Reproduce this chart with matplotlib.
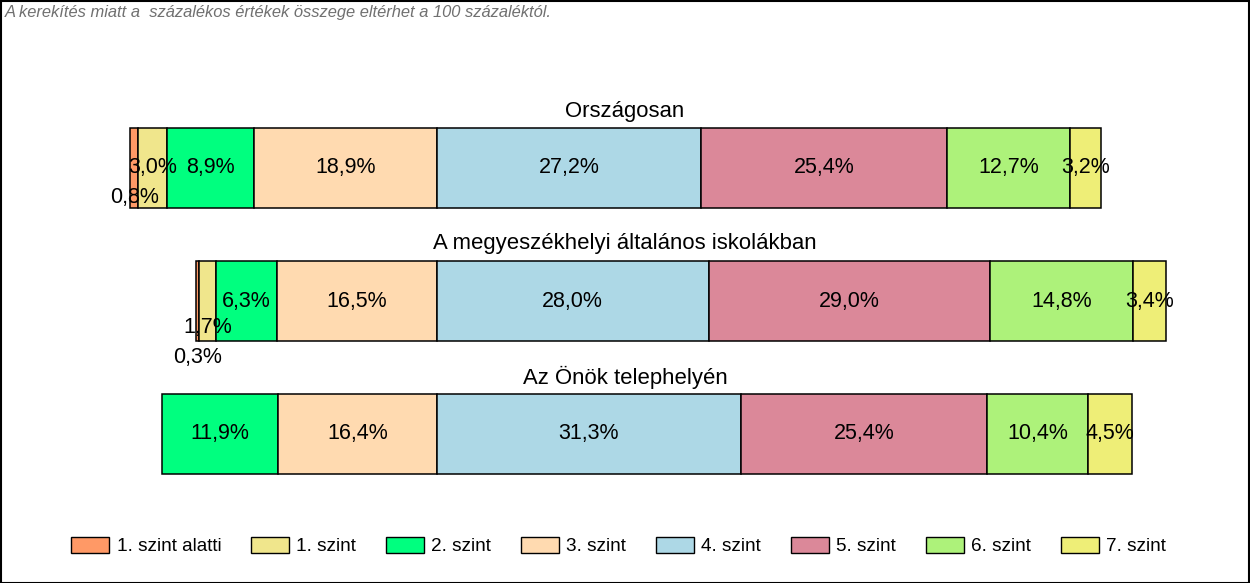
import matplotlib.pyplot as plt
from matplotlib.patches import Patch, Rectangle

# data
levels = ["1. szint alatti", "1. szint", "2. szint", "3. szint",
          "4. szint", "5. szint", "6. szint", "7. szint"]
colors = ["#FF9966", "#F0E68C", "#00FF7F", "#FFDAB0",
          "#ADD8E6", "#DB8899", "#ADF27A", "#EEEE77"]
groups = ["Országosan", "A megyeszékhelyi általános iskolákban", "Az Önök telephelyén"]
orszagos = [0.8, 3.0, 8.9, 18.9, 27.2, 25.4, 12.7, 3.2]
megyeszekhely = [0.3, 1.7, 6.3, 16.5, 28.0, 29.0, 14.8, 3.4]
telephely = [0.0, 0.0, 11.9, 16.4, 31.3, 25.4, 10.4, 4.5]
values = [orszagos, megyeszekhely, telephely]

# label offsets (px, downward) for the narrow segments
label_dy = [{0: 29}, {0: 56, 1: 27}, {}]

W, H = 1250, 583
PX = 9.7          # pixels per percent
X0 = 437          # x pixel of the 3./4. szint boundary
fig = plt.figure(figsize=(W / 100, H / 100), dpi=100)
ax = fig.add_axes([0, 0, 1, 1])
ax.set_xlim(-X0 / PX, (W - X0) / PX)
ax.set_ylim(H, 0)
ax.axis("off")

font = "Liberation Sans"
row_y = [168, 301, 434]
bar_h = 80

for r, vals in enumerate(values):
    left = -sum(vals[:4])  # align on 3./4. szint boundary
    for i, v in enumerate(vals):
        if v > 0:
            ax.barh(row_y[r], v, left=left, height=bar_h, color=colors[i],
                    edgecolor="black", linewidth=1.1)
            dy = label_dy[r].get(i, 0)
            ax.text(left + v / 2, row_y[r] + dy, f"{v:.1f}%".replace(".", ","),
                    ha="center", va="center", fontsize=15.5, family=font)
        left += v
    ax.text((W / 2 - X0) / PX, row_y[r] - bar_h / 2 - 17, groups[r],
            ha="center", va="center", fontsize=15.9, family=font)

fig.text(5 / W, 1 - 13 / H, "A kerekítés miatt a  százalékos értékek összege eltérhet a 100 százaléktól.",
         ha="left", va="center", fontsize=11.9, style="italic", color="#707070", family=font)

handles = [Patch(facecolor=c, edgecolor="black", linewidth=1.0, label=l)
           for c, l in zip(colors, levels)]
fig.legend(handles=handles, loc="center", bbox_to_anchor=(618.5 / W, 1 - 546 / H), ncol=8,
           frameon=False, handlelength=2.0, handleheight=0.9, handletextpad=0.4,
           columnspacing=1.55, prop={"family": font, "size": 13.7})

fig.add_artist(Rectangle((0.5 / W, 0.5 / H), 1 - 1.5 / W, 1 - 1.5 / H, transform=fig.transFigure,
                         fill=False, edgecolor="black", linewidth=1.5))

fig.savefig("out.png", dpi=100)
